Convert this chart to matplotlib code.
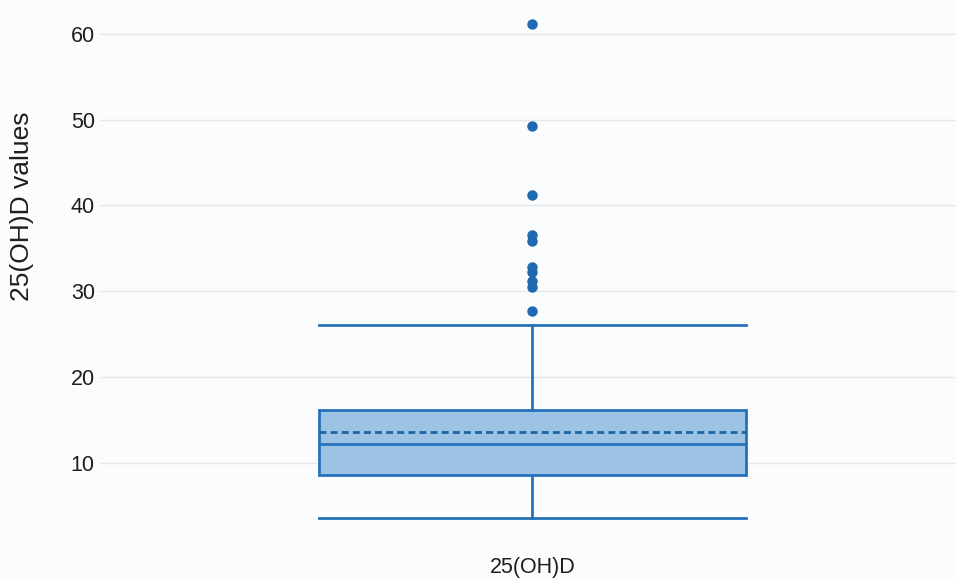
import matplotlib.pyplot as plt

# 25(OH)D summary values
label = "25(OH)D"
q1, median, q3 = 8.6, 12.2, 16.1
mean = 13.6
whisker_low, whisker_high = 3.5, 26.0
outliers = [61.2, 49.3, 41.2, 36.5, 35.9, 32.8, 32.2, 31.2, 30.5, 27.7]
yticks = [10, 20, 30, 40, 50, 60]

line_col = "#2672ba"
fill_col = "#9dc3e4"

plt.rcParams["font.family"] = ["Liberation Sans", "DejaVu Sans"]

fig = plt.figure(figsize=(9.56, 5.78), dpi=100)
fig.patch.set_facecolor("#fbfcfd")
ax = fig.add_axes([0.105, 0.066, 0.895, 0.92])
ax.set_facecolor("#fbfcfd")

stats = [{
    "label": label,
    "q1": q1, "med": median, "q3": q3, "mean": mean,
    "whislo": whisker_low, "whishi": whisker_high,
    "fliers": outliers,
}]

ax.bxp(
    stats, positions=[0], widths=0.5, capwidths=0.5,
    patch_artist=True, showmeans=True, meanline=True,
    boxprops=dict(facecolor=fill_col, edgecolor=line_col, linewidth=2),
    medianprops=dict(color=line_col, linewidth=2),
    meanprops=dict(color="#1f64a3", linewidth=2, linestyle=(0, (2.5, 1.5))),
    whiskerprops=dict(color=line_col, linewidth=2),
    capprops=dict(color=line_col, linewidth=2),
    flierprops=dict(marker="o", markerfacecolor="#1f6aae", markeredgecolor="#1f6aae",
                    markersize=6.5),
)

ax.set_xlim(-0.505, 0.495)
ax.set_ylim(1, 63)
ax.set_yticks(yticks)
ax.grid(axis="y", color="#e6e7e9", linewidth=1)
ax.set_axisbelow(True)
for s in ax.spines.values():
    s.set_visible(False)
ax.tick_params(axis="both", length=0, labelsize=15.5, colors="#1e1e1e", pad=4)
ax.tick_params(axis="x", pad=12)
ax.set_ylabel("25(OH)D values", fontsize=19, color="#1e1e1e")
ax.yaxis.set_label_coords(-0.077, 0.628)

fig.savefig("out.png", dpi=100, facecolor=fig.get_facecolor())
